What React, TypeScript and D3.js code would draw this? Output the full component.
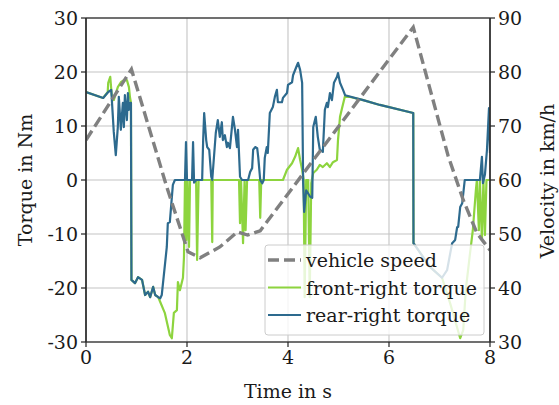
import React from "react";
import * as d3 from "d3";

const W = 559;
const H = 405;
const plot = { left: 86, right: 490, top: 18, bottom: 342 };

// Vehicle speed in km/h (right axis)
const speedTime = [0, 0.9, 1.6, 2.02, 2.26, 2.65, 3.0, 3.2, 3.45, 6.48, 7.17, 7.47, 7.74, 8.0];
const speedKmh = [67.4, 80.5, 58.7, 46.7, 45.6, 47.6, 50.4, 49.8, 50.6, 88.3, 64.5, 56.3, 50.2, 47.0];

// Rear-right wheel torque in Nm
const rearTime = [
  0, 0.34, 0.44, 0.5, 0.55, 0.59, 0.63, 0.65, 0.69, 0.73, 0.75, 0.77, 0.81, 0.83, 0.85, 0.88, 0.89,
  0.9, 0.97, 1.03, 1.11, 1.17, 1.23, 1.27, 1.33, 1.37, 1.43, 1.47, 1.5, 1.6, 1.62, 1.66, 1.72, 1.76,
  1.96, 1.98, 2.0, 2.1, 2.12, 2.14, 2.18, 2.3, 2.32, 2.34, 2.38, 2.4, 2.44, 2.48, 2.5, 2.51, 2.57,
  2.61, 2.65, 2.69, 2.71, 2.75, 2.79, 2.81, 2.85, 2.89, 2.91, 2.95, 2.99, 3.01, 3.05, 3.09, 3.21,
  3.25, 3.29, 3.31, 3.35, 3.39, 3.41, 3.45, 3.49, 3.52, 3.54, 3.58, 3.6, 3.64, 3.7, 3.74, 3.78, 3.8,
  3.88, 3.9, 3.98, 4.0, 4.08, 4.1, 4.18, 4.2, 4.24, 4.28, 4.3, 4.32, 4.36, 4.44, 4.48, 4.5, 4.55,
  4.59, 4.63, 4.69, 4.73, 4.77, 4.79, 4.83, 4.87, 4.91, 4.97, 4.99, 5.03, 5.09, 5.13, 5.49, 5.82,
  6.48, 6.485, 6.81, 7.05, 7.15, 7.25, 7.31, 7.35, 7.37, 7.41, 7.45, 7.5, 7.8, 7.84, 7.86, 7.9,
  7.94, 7.98, 8.0,
];
const rearTorque = [
  16.3, 15.2, 16.3, 16.7, 8.9, 4.6, 9.8, 15.4, 9.3, 14.3, 9.8, 15.7, 11.1, 16.1, 13.0, 14.3, 14.3,
  -18.5, -19.1, -18.0, -18.5, -21.3, -20.7, -21.7, -19.8, -21.3, -21.7, -21.9, -21.3, -12.4, -8.0,
  -7.8, -0.9, 0,
  0, 7.0, 0, 0, 7.0, -0.5, 0, 0, 7.4, 12.4, 7.4, 6.1, 5.6, 0.6, 0, 1.3, 8.7,
  11.1, 8.0, 10.7, 7.4, 8.3, 6.1, 6.9, 5.9, 9.8, 11.7, 9.3, 6.1, 9.3, 0.6, 0, 0,
  1.5, 2.2, 5.6, 6.1, 5.9, 4.3, 0, -0.6, 0, 4.1, 6.1, 5.0, 12.4, 13.5, 15.4, 16.7, 14.4,
  14.4, 15.2, 16.1, 17.6, 18.1, 19.4, 21.3, 21.7, 20.4, 18.0, -0.6, -5.9, -1.9, -3.1, -3.3, 9.8, 11.7,
  8.0, 5.6, 5.2, 13.0, 14.3, 13.5, 16.1, 14.8, 18.0, 19.1, 19.8, 18.0, 16.7, 15.7, 14.8, 13.9,
  12.4, -11.7, -16.1, -18.1, -16.7, -11.7, -11.1, -8.7, -8.7, -5.0, -4.3, 0, 0, 4.3, -0.6, 1.0,
  5.6, 13.3, 5.0,
];

// Front-right wheel torque in Nm
const frontTime = [
  0, 0.34, 0.43, 0.44, 0.48, 0.51, 0.55, 0.63, 0.69, 0.75, 0.81, 0.85, 0.87, 0.89,
  0.9, 0.97, 1.03, 1.11, 1.17, 1.23, 1.27, 1.33, 1.37, 1.43, 1.47, 1.56, 1.66, 1.7, 1.74, 1.8,
  1.82, 1.86, 1.92, 1.94, 1.96, 1.97, 1.99, 2.01, 2.04, 2.06, 2.18, 2.2, 2.23, 2.48, 2.5, 2.51,
  3.03, 3.05, 3.07, 3.11, 3.14, 3.16, 3.19, 3.43, 3.45, 3.47, 3.9, 3.98, 4.08, 4.14, 4.2, 4.24,
  4.28, 4.31, 4.33, 4.36, 4.4, 4.43, 4.46, 4.5, 4.57, 4.63, 4.69, 4.77, 4.83, 4.89, 4.97, 4.99,
  5.03, 5.07, 5.13, 5.49, 5.82, 6.48, 6.485, 6.81, 7.05, 7.21, 7.41, 7.47, 7.52, 7.6, 7.66, 7.72,
  7.74, 7.78, 7.8, 7.84, 7.87, 7.9, 7.93, 8.0,
];
const frontTorque = [
  16.3, 15.2, 16.3, 18.0, 19.1, 15.7, 14.8, 17.2, 18.1, 18.5, 18.5, 17.2, 15.4, 14.3,
  -18.5, -19.1, -18.0, -18.5, -21.3, -20.7, -21.7, -19.8, -21.3, -21.7, -22.6, -24.6, -28.7, -29.3,
  -24.6, -24.1, -18.9, -20.4, -18.1, -14.3, -0.4, 0, -11.1, 0, -12.4, 0, 0, -14.8, 0, 0, -11.5, 0,
  0, -8.0, 0, -11.7, 0, -9.3, 0, 0, -7.0, 0, 0, 1.9, 3.1, 4.3, 5.9, 3.7,
  1.9, 0, -21.7, 0, 0, -21.7, -0.6, 1.3, 1.9, 2.8, 2.4, 3.1, 2.4, 3.3, 3.7, 7.4,
  11.7, 13.3, 15.6, 14.8, 13.9, 12.4, -11.7, -16.1, -18.1, -22.8, -29.3, -27.8, -20.4, -13.9, -9.3,
  -1.9, 0, -9.3, 0, -11.1, 0, -10.2, 0, 0,
];

const xTicks = [0, 2, 4, 6, 8];
const torqueTicks = [-30, -20, -10, 0, 10, 20, 30];
const speedTicks = [30, 40, 50, 60, 70, 80, 90];

const legendItems = [
  { label: "vehicle speed", color: "#808080", dash: "11,5", width: 3.4 },
  { label: "front-right torque", color: "#8dd43e", dash: "", width: 2.2 },
  { label: "rear-right torque", color: "#2d6a8e", dash: "", width: 2.2 },
];

const FONT = "'DejaVu Serif', serif";
const FS = 19;

export default function App() {
  const x = d3.scaleLinear().domain([0, 8]).range([plot.left, plot.right]);
  const yT = d3.scaleLinear().domain([-30, 30]).range([plot.bottom, plot.top]);
  const yV = d3.scaleLinear().domain([30, 90]).range([plot.bottom, plot.top]);

  const torqueLine = (ts: number[], vs: number[]) =>
    d3
      .line<number>()
      .x((_, i) => x(ts[i]))
      .y((v) => yT(v))(vs) || "";
  const speedPath =
    d3
      .line<number>()
      .x((_, i) => x(speedTime[i]))
      .y((v) => yV(v))(speedKmh) || "";

  const lx = 265;
  const ly = 245;

  return (
    <div style={{ position: "fixed", left: 0, top: 0 }}>
      <svg width={W} height={H} style={{ display: "block", background: "#fff" }} fontFamily={FONT}>
        <defs>
          <clipPath id="plotClip">
            <rect x={plot.left} y={plot.top} width={plot.right - plot.left} height={plot.bottom - plot.top} />
          </clipPath>
        </defs>
        {/* grid */}
        <g stroke="#c4c4c4" strokeWidth={1.1}>
          {xTicks.map((t) => (
            <line key={"gx" + t} x1={x(t)} x2={x(t)} y1={plot.top} y2={plot.bottom} />
          ))}
          {torqueTicks.map((t) => (
            <line key={"gy" + t} x1={plot.left} x2={plot.right} y1={yT(t)} y2={yT(t)} />
          ))}
        </g>
        {/* torque traces */}
        <g clipPath="url(#plotClip)" fill="none" strokeLinejoin="round">
          <path d={torqueLine(frontTime, frontTorque)} stroke={legendItems[1].color} strokeWidth={2.2} />
          <path d={torqueLine(rearTime, rearTorque)} stroke={legendItems[2].color} strokeWidth={2.2} />
        </g>
        {/* speed trace */}
        <path
          d={speedPath}
          fill="none"
          stroke={legendItems[0].color}
          strokeWidth={3.4}
          strokeDasharray="11,5"
          clipPath="url(#plotClip)"
        />
        {/* frame */}
        <line x1={plot.left} x2={plot.right} y1={plot.top} y2={plot.top} stroke="#000" strokeWidth={1.2} />
        <line x1={plot.left} x2={plot.right} y1={plot.bottom} y2={plot.bottom} stroke="#000" strokeWidth={1.2} />
        <line x1={plot.left} x2={plot.left} y1={plot.top} y2={plot.bottom} stroke="#333" strokeWidth={1.8} />
        <line x1={plot.right} x2={plot.right} y1={plot.top} y2={plot.bottom} stroke="#333" strokeWidth={1.8} />
        {/* axes */}
        <g fontSize={FS} fill="#1a1a1a">
          {torqueTicks.map((t) => (
            <g key={"lt" + t}>
              <line x1={plot.left - 5} x2={plot.left} y1={yT(t)} y2={yT(t)} stroke="#222" strokeWidth={1.2} />
              <text x={plot.left - 8} y={yT(t)} textAnchor="end" dominantBaseline="central">
                {t}
              </text>
            </g>
          ))}
          {speedTicks.map((t) => (
            <g key={"rt" + t}>
              <line x1={plot.right} x2={plot.right + 5} y1={yV(t)} y2={yV(t)} stroke="#222" strokeWidth={1.2} />
              <text x={plot.right + 8} y={yV(t)} textAnchor="start" dominantBaseline="central">
                {t}
              </text>
            </g>
          ))}
          {xTicks.map((t) => (
            <g key={"xt" + t}>
              <line x1={x(t)} x2={x(t)} y1={plot.bottom} y2={plot.bottom + 5} stroke="#222" strokeWidth={1.2} />
              <text x={x(t)} y={plot.bottom + 22} textAnchor="middle">
                {t}
              </text>
            </g>
          ))}
          <text x={288} y={398} textAnchor="middle">
            Time in s
          </text>
          <text transform={`translate(31.5,180) rotate(-90)`} textAnchor="middle">
            Torque in Nm
          </text>
          <text transform={`translate(554,181) rotate(-90)`} textAnchor="middle">
            Velocity in km/h
          </text>
        </g>
        {/* legend */}
        <g>
          <rect x={lx} y={ly} width={219} height={90} rx={3} fill="#fff" fillOpacity={0.8} stroke="#cccccc" strokeWidth={1} />
          {legendItems.map((it, i) => {
            const cy = ly + 15 + i * 27.5;
            return (
              <g key={it.label}>
                <line
                  x1={lx + 3}
                  x2={lx + 36}
                  y1={cy}
                  y2={cy}
                  stroke={it.color}
                  strokeWidth={it.width}
                  strokeDasharray={it.dash || undefined}
                />
                <text x={lx + 41} y={cy} dominantBaseline="central" fontSize={FS} fill="#1a1a1a">
                  {it.label}
                </text>
              </g>
            );
          })}
        </g>
      </svg>
    </div>
  );
}
